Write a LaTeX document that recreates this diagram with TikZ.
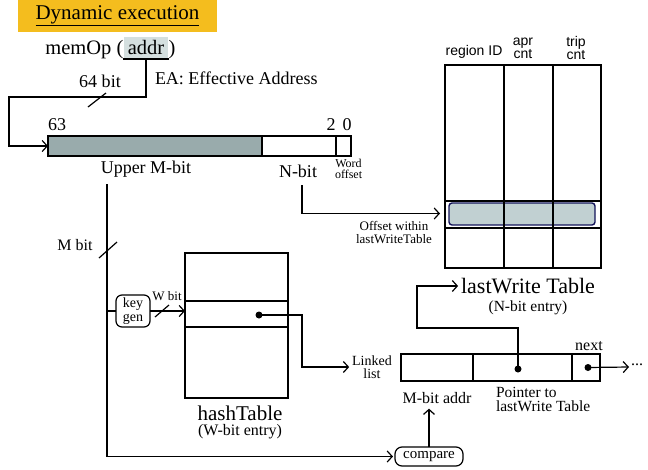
\documentclass[tikz,border=0pt]{standalone}
\usepackage{fontspec}
\setmainfont{Liberation Serif}
\newfontfamily\hdrfont{Liberation Sans}
\usetikzlibrary{arrows.meta,calc}
\definecolor{gold}{HTML}{F4BD1E}
\definecolor{bargrey}{HTML}{99ABAC}
\definecolor{addrbg}{HTML}{D4DFDF}
\definecolor{hlfill}{HTML}{B6C8CA}
\definecolor{hlborder}{HTML}{14145A}
\begin{document}
\begin{tikzpicture}[x=1pt,y=-1pt,line width=1.2pt,
  arr/.style={-{Straight Barb[length=5pt,width=11pt]}},
  lbl/.style={inner sep=0pt,outer sep=0pt},
  sz/.style={font=\fontsize{#1}{#1}\selectfont},
  ml/.style 2 args={align=center,font=\fontsize{#1}{#2}\selectfont},
  cell/.style={draw,inner sep=0pt,outer sep=0pt},
  tbl/.style={draw,line width=1.8pt,inner sep=0pt,outer sep=0pt},
  slashmark/.style={line width=1.2pt},
  dot/.style={circle,fill,inner sep=0pt,minimum size=7pt},
  pill/.style={draw,rounded corners=7pt,inner sep=0pt,outer sep=0pt}]
\useasboundingbox (0,0) rectangle (648,469);

% heading
\node[fill=gold,minimum width=199pt,minimum height=32pt,inner sep=0pt,sz=21] (title) at (117.5,16) {\underline{Dynamic execution}};

% memOp(addr)
\node[fill=addrbg,minimum width=44pt,minimum height=21pt,inner sep=0pt,sz=20.5] (addr) at (146,47.5) {addr};
\draw[line width=2.2pt] (addr.south west) -- (addr.south east);
\node[lbl,sz=20.5,anchor=base east] (memop) at (addr.base west) {memOp (};
\node[lbl,sz=20.5,anchor=base west] (rpar) at (addr.base east) {)};

% effective address bar
\node[cell,fill=bargrey,minimum width=214pt,minimum height=20pt,anchor=north west] (upper) at (48,136) {};
\node[cell,minimum width=74pt,minimum height=20pt,anchor=north west] (nbits) at (262,136) {};
\node[cell,minimum width=15pt,minimum height=20pt,anchor=north west] (woff) at (336,136) {};

\node[lbl,sz=18] (sixtyfour) at (100,81) {64 bit};
\node[lbl,sz=18,anchor=west] (ea) at (155,78) {EA: Effective Address};
\node[lbl,sz=18] (b63) at (57,125) {63};
\node[lbl,sz=18] (b2) at (331,125) {2};
\node[lbl,sz=18] (b0) at (347,125) {0};
\node[lbl,sz=18] (uml) at (146,169) {Upper M-bit};
\node[lbl,sz=18] (nbl) at (298,171) {N-bit};
\node[lbl,ml={12}{11.5},anchor=west] (wol) at (335,169) {Word\\offset};

\coordinate (bend1) at (9,97);
\draw[arr] (addr.south) |- (bend1) |- (upper.west);
\draw[slashmark] (88,107) -- (106,93);

% lastWrite table
\node[tbl,minimum width=156pt,minimum height=203pt,anchor=north west] (lwt) at (445,65) {};
\node[tbl,minimum width=156pt,minimum height=27pt,anchor=north west] (lwrow) at (445,201) {};
\draw[line width=1.8pt] (504,65) -- (504,268);
\draw[line width=1.8pt] (553,65) -- (553,268);
\node[draw=hlborder,fill=hlfill,line width=1.4pt,rounded corners=3pt,minimum width=146pt,minimum height=22pt,inner sep=0pt,fill opacity=0.85] (hl) at (522,214) {};
\draw[line width=1.8pt] (504,201) -- (504,228);
\draw[line width=1.8pt] (553,201) -- (553,228);

\node[lbl,font=\hdrfont\fontsize{14}{14}\selectfont] (hreg) at (474,52) {region ID};
\node[lbl,align=center,font=\hdrfont\fontsize{14}{11}\selectfont] (hapr) at (523,48) {apr\\cnt};
\node[lbl,align=center,font=\hdrfont\fontsize{14}{11}\selectfont] (htrip) at (576,48) {trip\\cnt};

\node[lbl,ml={13}{13}] (offl) at (394,233) {Offset within\\lastWriteTable};
\coordinate (ntop) at (302,185);
\draw[arr] (ntop) |- ($(lwrow.west)+(-5,-1)$);

\node[lbl,sz=22,text depth=1pt] (lwtl) at (528,286) {lastWrite Table};
\node[lbl,sz=15.5,text height=11pt] (lwtn) at (528,308) {(N-bit entry)};

% M-bit path, key generator and hash table
\coordinate (mtop) at (107,184);
\node[pill,minimum width=68pt,minimum height=19pt,sz=15] (cmp) at (429,456.5) {compare};
\draw[arr] (mtop) |- ($(cmp.west)+(-2,0)$);
\draw[slashmark] (99,258) -- (117,242);
\node[lbl,sz=16] (mbl) at (75,245) {M bit};

\node[pill,rounded corners=6pt,minimum width=34pt,minimum height=32pt,ml={14}{14}] (kg) at (133,311) {key\\gen};
\coordinate (kbranch) at (107,311);
\draw (kbranch) -- (kg.west);

\node[draw,line width=1.5pt,minimum width=103pt,minimum height=145pt,inner sep=0pt,outer sep=0pt] (hash) at (236.5,325.5) {};
\node[draw,line width=1.5pt,minimum width=103pt,minimum height=26pt,inner sep=0pt,outer sep=0pt] (hrow) at (236.5,314) {};
\draw[arr] (kg.east) -- (kg.east -| hrow.west);
\draw[slashmark] (155,317) -- (169,305);
\node[lbl,sz=13] (wbl) at (167,296) {W bit};
\node[lbl,sz=21] (hashl) at (240,413) {hashTable};
\node[lbl,sz=16] (hashn) at (240,432) {(W-bit entry)};

\node[dot] (hdot) at (259,315) {};
\node[lbl,ml={14}{13.5}] (ll) at (372,367) {Linked\\list};
\coordinate (hbend) at (302,315);
\draw[arr] (hdot.center) -- (hbend) |- ($(ll.west)+(-3,0)$);

% linked list entry
\node[cell,minimum width=72pt,minimum height=27pt,anchor=north west] (lladdr) at (401,354) {};
\node[cell,minimum width=99pt,minimum height=27pt,anchor=north west] (llptr) at (473,354) {};
\node[cell,minimum width=28pt,minimum height=27pt,anchor=north west] (llnext) at (572,354) {};
\node[dot] (pdot) at (518,369) {};
\node[dot] (ndot) at (588,367.5) {};
\node[lbl,sz=16] (nextl) at (589,346) {next};
\node[lbl,sz=16,anchor=west] (dots) at (631,365) {...};
\draw[arr] (ndot.center) -- ($(dots.west)+(-2,2)$);

\coordinate (pbend) at (417,328);
\draw[arr] (pdot.center) |- (pbend) |- ($(lwtl.west)+(-3,0)$);

\node[lbl,sz=16] (mba) at (437,398) {M-bit addr};
\node[lbl,ml={15.5}{14.5},align=left,anchor=north west] (ptrl) at (496,387) {Pointer to\\lastWrite Table};
\draw[arr] (cmp.north) -- ($(cmp.north |- mba.south)+(0,5)$);
\end{tikzpicture}
\end{document}
